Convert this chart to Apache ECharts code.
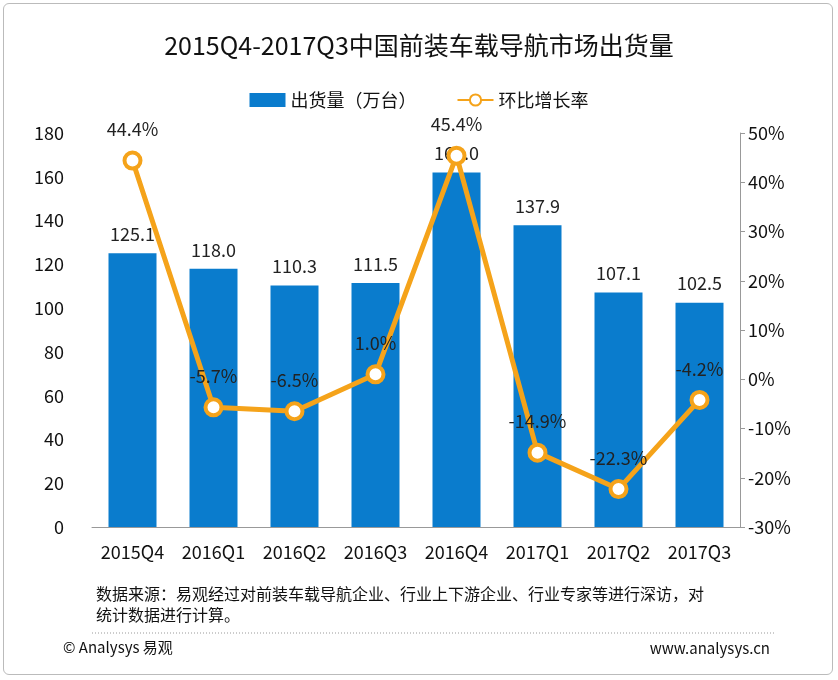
<!DOCTYPE html>
<html lang="en">
<head>
<meta charset="UTF-8">
<title>2015Q4-2017Q3中国前装车载导航市场出货量</title>
<script src="https://cdn.jsdelivr.net/npm/echarts@6.0.0/dist/echarts.min.js"></script>
<style>
  html, body { margin: 0; padding: 0; background: #fff; }
  #frame { position: absolute; left: 3px; top: 3px; width: 828px; height: 670px; border: 1px solid #bbb; border-radius: 6px; }
  #chart { width: 838px; height: 680px; }
</style>
</head>
<body>
<div id="frame"></div>
<div id="chart"></div>
<script>
    // chart data
    var quarters = ['2015Q4', '2016Q1', '2016Q2', '2016Q3', '2016Q4', '2017Q1', '2017Q2', '2017Q3'];
    var shipments = [125.1, 118.0, 110.3, 111.5, 162.0, 137.9, 107.1, 102.5];
    var growth = [44.4, -5.7, -6.5, 1.0, 45.4, -14.9, -22.3, -4.2];

    var font = '"Noto Sans CJK SC", "Noto Sans", sans-serif';
    var chart = echarts.init(document.getElementById('chart'));
    chart.setOption({
        textStyle: {fontFamily: font},
        title: {
            text: '2015Q4-2017Q3中国前装车载导航市场出货量',
            left: 'center', top: 28,
            textStyle: {fontSize: 25, fontWeight: 'normal', color: '#111', fontFamily: font}
        },
        legend: {
            top: 86, left: 'center', itemGap: 40,
            textStyle: {fontSize: 18, color: '#111'},
            data: [
                {name: '出货量（万台）', icon: 'rect', itemStyle: {color: '#0a7ccd'}},
                {name: '环比增长率'}
            ],
            itemWidth: 36, itemHeight: 14
        },
        grid: {left: 92, right: 98, top: 133, bottom: 153},
        xAxis: {
            type: 'category', data: quarters,
            axisLine: {lineStyle: {color: '#999'}},
            axisTick: {show: false},
            axisLabel: {fontSize: 18, color: '#111', margin: 16, interval: 0, hideOverlap: false}
        },
        yAxis: [
            {
                type: 'value', min: 0, max: 180, interval: 20,
                splitLine: {show: false},
                axisLine: {show: false},
                axisLabel: {fontSize: 18, color: '#111', margin: 28}
            },
            {
                type: 'value', min: -30, max: 50, interval: 10,
                splitLine: {show: false},
                axisLine: {show: true, lineStyle: {color: '#999'}},
                axisTick: {show: true, length: 5},
                axisLabel: {fontSize: 18, color: '#111', formatter: '{value}%'}
            }
        ],
        series: [
            {
                name: '出货量（万台）', type: 'bar', data: shipments, barWidth: 48,
                itemStyle: {color: '#0a7ccd'},
                label: {show: true, position: 'top', fontSize: 18, color: '#222', distance: 10,
                    formatter: function (p) { return p.value.toFixed(1); }}
            },
            {
                name: '环比增长率', type: 'line', yAxisIndex: 1, data: growth,
                lineStyle: {color: '#f5a31a', width: 5},
                itemStyle: {color: '#fff', borderColor: '#f5a31a', borderWidth: 4},
                symbol: 'circle', symbolSize: 16,
                label: {show: true, position: 'top', fontSize: 18, color: '#222', distance: 12,
                    formatter: function (p) { return p.value.toFixed(1) + '%'; }}
            }
        ],
        graphic: [
            {type: 'text', left: 96, top: 583, style: {text: '数据来源：易观经过对前装车载导航企业、行业上下游企业、行业专家等进行深访，对\n统计数据进行计算。', fontSize: 16, fill: '#111', lineHeight: 21, fontFamily: font}},
            {type: 'line', shape: {x1: 92, y1: 633, x2: 775, y2: 633}, style: {stroke: '#999', lineDash: [1, 2], lineWidth: 1}},
            {type: 'text', left: 63, top: 640, style: {text: '© Analysys 易观', fontSize: 15, fill: '#111', fontFamily: font}},
            {type: 'text', right: 68, top: 641, style: {text: 'www.analysys.cn', fontSize: 15, fill: '#111', fontFamily: font}}
        ]
    });
</script>
</body>
</html>
